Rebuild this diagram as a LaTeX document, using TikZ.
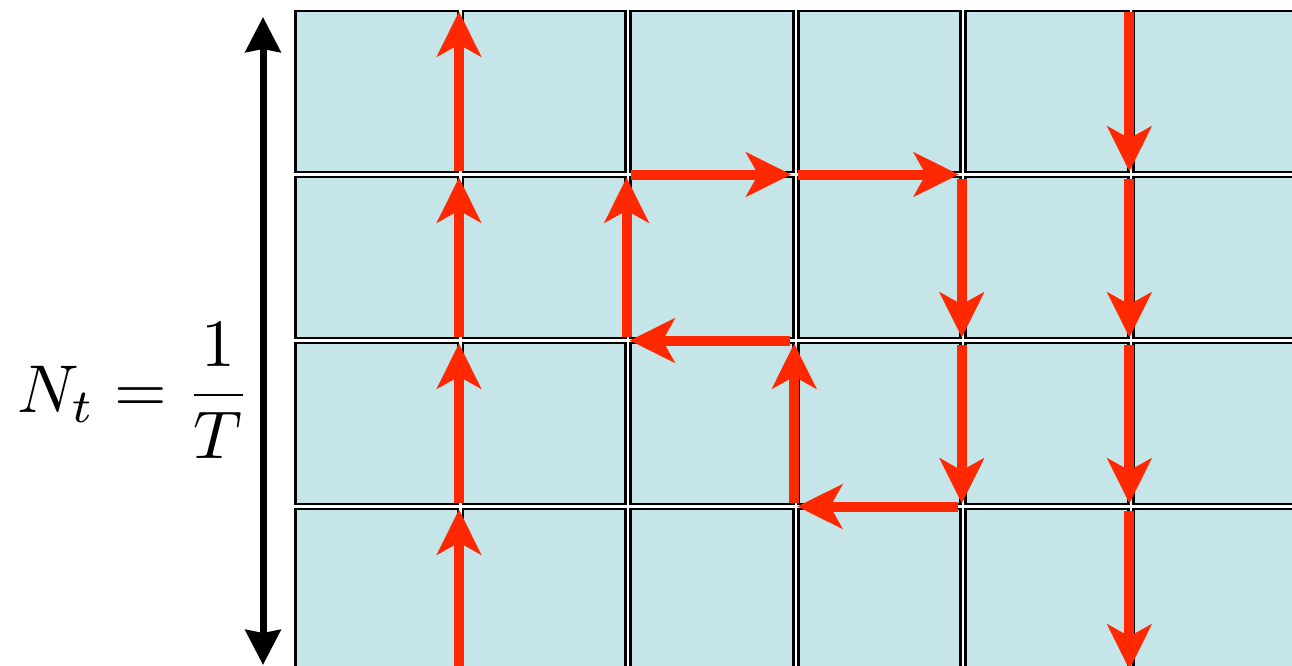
\documentclass[tikz,border=0pt]{standalone}
\usetikzlibrary{arrows.meta}
\definecolor{cellblue}{RGB}{198,229,232}
\definecolor{pathred}{RGB}{255,40,0}
\begin{document}
\begin{tikzpicture}[x=0.02cm,y=-0.02cm,
  cell/.style={draw=black,line width=0.055cm,fill=cellblue},
  flow/.style={pathred,line width=0.2cm,-{Stealth[length=0.9cm,width=0.88cm,inset=0.24cm]},shorten >=0.06cm,shorten <=0.08cm},
  axis/.style={black,line width=0.14cm,{Stealth[length=0.7cm,width=0.7cm,inset=0.06cm]}-{Stealth[length=0.7cm,width=0.7cm,inset=0.06cm]}}]
  \useasboundingbox (0,0) rectangle (1292,666);
  \clip (0,0) rectangle (1292,666);
  \foreach \i in {0,...,5}
    \foreach \j in {0,...,3}
      \draw[cell] (295.4+167.6*\i,11+166*\j) rectangle ++(162.6,161);
  \foreach \i in {0,...,6}
    \foreach \j in {0,...,4}
      \coordinate (p-\i-\j) at (291.4+167.6*\i,8.5+166*\j);
  \coordinate (nt-top) at (263,17);
  \coordinate (nt-bot) at (263,665);
  \draw[axis] (nt-bot) -- (nt-top);
  \node[scale=3.85,anchor=base east,inner sep=0] (nt) at (252,412) {$\displaystyle N_t = \frac{1}{T}$};
  \foreach \s/\e in {1-4/1-3,1-3/1-2,1-2/1-1,1-1/1-0,
                     2-2/2-1,2-1/3-1,3-1/4-1,4-1/4-2,4-2/4-3,4-3/3-3,3-3/3-2,3-2/2-2,
                     5-0/5-1,5-1/5-2,5-2/5-3,5-3/5-4}
    \draw[flow] (p-\s) -- (p-\e);
\end{tikzpicture}
\end{document}
